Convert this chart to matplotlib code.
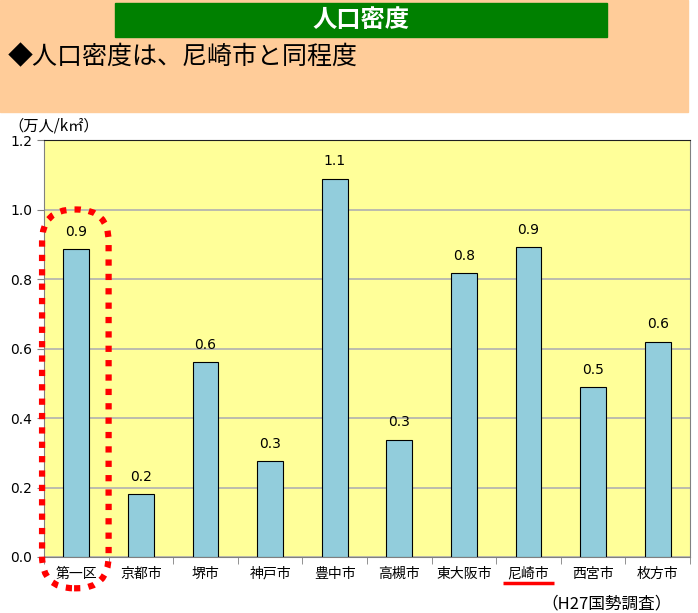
import matplotlib.pyplot as plt
from matplotlib.patches import FancyBboxPatch, Rectangle
from matplotlib.transforms import IdentityTransform

plt.rcParams['font.family'] = ['Noto Sans CJK JP', 'DejaVu Sans']

# data
cities = ['第一区', '京都市', '堺市', '神戸市', '豊中市', '高槻市', '東大阪市', '尼崎市', '西宮市', '枚方市']
density = [0.886, 0.181, 0.561, 0.276, 1.088, 0.337, 0.817, 0.892, 0.489, 0.619]
yticks = [0.0, 0.2, 0.4, 0.6, 0.8, 1.0, 1.2]

W, H = 698, 613
fig = plt.figure(figsize=(W / 100, H / 100), dpi=100)

# header band
fig.patches.append(Rectangle((0, 1 - 112 / H), 688 / W, 112 / H, transform=fig.transFigure,
                             color='#FFCC99', zorder=0))
fig.patches.append(Rectangle((115 / W, 1 - 37 / H), 492 / W, 34 / H, transform=fig.transFigure,
                             color='#008000', zorder=1))
fig.text(361 / W, 1 - 20 / H, '人口密度', color='white', fontsize=17.5, fontweight='bold',
         ha='center', va='center')
fig.text(8 / W, 1 - 57 / H, '◆人口密度は、尼崎市と同程度', fontsize=18, ha='left', va='center')

ax = fig.add_axes([44 / W, (H - 557) / H, 646 / W, 417 / H])
ax.set_facecolor('#FFFF99')
x = range(len(cities))
ax.bar(x, density, width=0.4, color='#92CDDC', edgecolor='black', linewidth=0.8, zorder=3)
for i, v in enumerate(density):
    ax.text(i, v + 0.03, f'{v:.1f}', ha='center', va='bottom', fontsize=10,
            family=['DejaVu Sans'])

ax.set_xlim(-0.5, len(cities) - 0.5)
ax.set_ylim(0, 1.2)
ax.set_yticks(yticks)
ax.set_yticklabels([f'{t:.1f}' for t in yticks], fontsize=10, family=['DejaVu Sans'])
ax.yaxis.grid(True, color='#B0B0B0', linewidth=1.2, zorder=0)
ax.set_axisbelow(True)
ax.set_xticks(list(x))
ax.set_xticklabels(cities, fontsize=10)
ax.tick_params(axis='x', length=0, pad=7)
ax.set_xticks([i + 0.5 for i in range(-1, len(cities))], minor=True)
ax.tick_params(axis='x', which='minor', length=5, color='#808080')
ax.tick_params(axis='y', length=5, color='#808080')
for s in ['left', 'right', 'bottom']:
    ax.spines[s].set_color('#808080')
ax.spines['top'].set_color('#202020')

fig.text(8 / W, 1 - 126 / H, '（万人/k㎡）', fontsize=11, ha='left', va='center')
fig.text(672 / W, 1 - 604 / H, '（H27国勢調査）', fontsize=12, ha='right', va='center')

# red dotted ring around 第一区 and underline under 尼崎市
(x0, y0) = ax.transData.transform((-0.53, -0.09))
(x1, y1) = ax.transData.transform((0.5, 1.0))
ring = FancyBboxPatch((x0, y0), x1 - x0, y1 - y0, boxstyle='round,pad=0,rounding_size=32',
                      transform=IdentityTransform(), fill=False, edgecolor='red',
                      linewidth=4.5, linestyle=(0, (1, 1.3)), zorder=10, clip_on=False)
fig.patches.append(ring)
ax.plot([6.6, 7.4], [-0.075, -0.075], color='red', linewidth=2.5, clip_on=False,
        solid_capstyle='butt')

fig.savefig('out.png', dpi=100)
